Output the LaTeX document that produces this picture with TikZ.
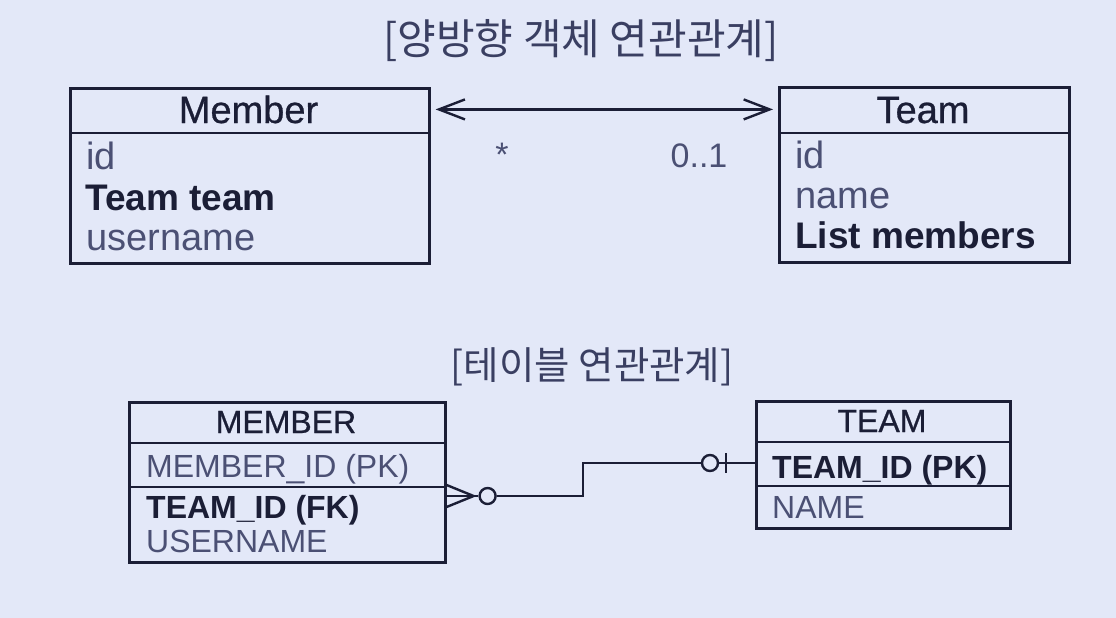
\documentclass[tikz,border=0pt]{standalone}
\usepackage{fontspec}
\setmainfont{Liberation Sans}
\newfontface\medface[FakeBold=0.7]{Liberation Sans}
\newfontfamily\kr{Noto Sans CJK KR}
\usetikzlibrary{arrows.meta}
\definecolor{bgc}{HTML}{E3E8F8}
\definecolor{ink}{HTML}{1B1E36}
\definecolor{lightc}{HTML}{4B5074}
\definecolor{titlec}{HTML}{3A3F62}
\tikzset{
  boxshape/.style={draw=ink, line width=2.6pt, inner sep=0pt, anchor=north west},
  divider/.style={draw=ink, line width=2.4pt},
  bigfont/.style={font=\fontsize{38}{40}\selectfont},
  bighdr/.style={font=\medface\fontsize{38}{40}\selectfont},
  bigbold/.style={font=\fontsize{37}{40}\selectfont\bfseries},
  smallfont/.style={font=\fontsize{32}{34}\selectfont},
  smallhdr/.style={font=\medface\fontsize{32}{34}\selectfont},
  smallbold/.style={font=\fontsize{32}{34}\selectfont\bfseries},
  hdrtext/.style={inner sep=0pt, anchor=base, text=ink},
  lighttext/.style={inner sep=0pt, anchor=base west, text=lightc},
  boldtext/.style={inner sep=0pt, anchor=base west, text=ink},
  titletext/.style={inner sep=0pt, anchor=base, text=titlec},
  assoc/.style={draw=ink, line width=2.4pt, {Straight Barb[length=26pt,width=20pt,line width=2.4pt]}-{Straight Barb[length=26pt,width=20pt,line width=2.4pt]}},
  erline/.style={draw=ink, line width=2.4pt},
  ercircle/.style={circle, draw=ink, line width=2.4pt, minimum size=16pt, inner sep=0pt, fill=bgc},
  mult/.style={inner sep=0pt, anchor=base, text=lightc, font=\fontsize{34}{36}\selectfont}
}
\begin{document}
\begin{tikzpicture}[x=1pt,y=-1pt]
\useasboundingbox (0,0) rectangle (1116,618);
\fill[bgc] (0,0) rectangle (1116,618);

% titles
\node[titletext, font=\kr\fontsize{42}{44}\selectfont] (t1) at (581,55) {[양방향 객체 연관관계]};
\node[titletext, font=\kr\fontsize{38.5}{40}\selectfont] (t2) at (592,379) {[테이블 연관관계]};

% Member class
\node[boxshape, minimum width=359pt, minimum height=175pt] (mbox) at (69,87) {};
\draw[divider] ([yshift=-46pt]mbox.north west) -- ([yshift=-46pt]mbox.north east);
\node[hdrtext, bighdr] (mhead) at (248.5,123) {Member};
\node[lighttext, bigfont] (m1) at (86,169) {id};
\node[boldtext, bigbold] (m2) at (85,210) {Team team};
\node[lighttext, bigfont] (m3) at (86,250) {username};

% Team class
\node[boxshape, minimum width=290pt, minimum height=175pt] (tbox) at (778,86) {};
\draw[divider] ([yshift=-47pt]tbox.north west) -- ([yshift=-47pt]tbox.north east);
\node[hdrtext, bighdr] (thead) at (923,123) {Team};
\node[lighttext, bigfont] (t1r) at (795,168) {id};
\node[lighttext, bigfont] (t2r) at (795,208) {name};
\node[boldtext, bigbold] (t3r) at (795,248) {List members};

% association
\draw[assoc, shorten <=5pt, shorten >=5pt] (mbox.east |- mhead) -- (tbox.west |- mhead);
\node[mult] (ml) at (502,166) {*};
\node[mult] (tl) at (699,167) {0..1};

% MEMBER table
\node[boxshape, minimum width=316pt, minimum height=160pt] (mm) at (128,401) {};
\draw[divider] ([yshift=-42pt]mm.north west) -- ([yshift=-42pt]mm.north east);
\draw[divider] ([yshift=-86pt]mm.north west) -- ([yshift=-86pt]mm.north east);
\node[hdrtext, smallhdr] (mmh) at (286,433) {MEMBER};
\node[lighttext, smallfont] (mm1) at (146,477) {MEMBER\_ID (PK)};
\node[boldtext, smallbold] (mm2) at (146,518) {TEAM\_ID (FK)};
\node[lighttext, smallfont] (mm3) at (146,552) {USERNAME};

% TEAM table
\node[boxshape, minimum width=254pt, minimum height=127pt] (tm) at (755,400) {};
\draw[divider] ([yshift=-42pt]tm.north west) -- ([yshift=-42pt]tm.north east);
\draw[divider] ([yshift=-86pt]tm.north west) -- ([yshift=-86pt]tm.north east);
\node[hdrtext, smallhdr] (tmh) at (882,432) {TEAM};
\node[boldtext, smallbold] (tm1) at (772,478) {TEAM\_ID (PK)};
\node[lighttext, smallfont] (tm2) at (772,518) {NAME};

% relationship
\coordinate (fk) at ([yshift=-95pt]mm.north east);
\coordinate (pk) at ([yshift=-63pt]tm.north west);
\coordinate (cfv) at ([xshift=27pt]fk);
\node[ercircle] (c1) at ([xshift=41pt]fk) {};
\node[ercircle] (c2) at ([xshift=-45pt]pk) {};
\draw[erline] ([yshift=11pt]fk) -- (cfv) -- ([yshift=-11pt]fk);
\draw[erline] (fk) -- (cfv) -- (c1.west);
\draw[erline] (c1.east) -- ++(86,0) |- (c2.west);
\draw[erline] (c2.east) -- (pk);
\draw[erline] ([xshift=-29pt,yshift=10pt]pk) -- ([xshift=-29pt,yshift=-10pt]pk);
\end{tikzpicture}
\end{document}
